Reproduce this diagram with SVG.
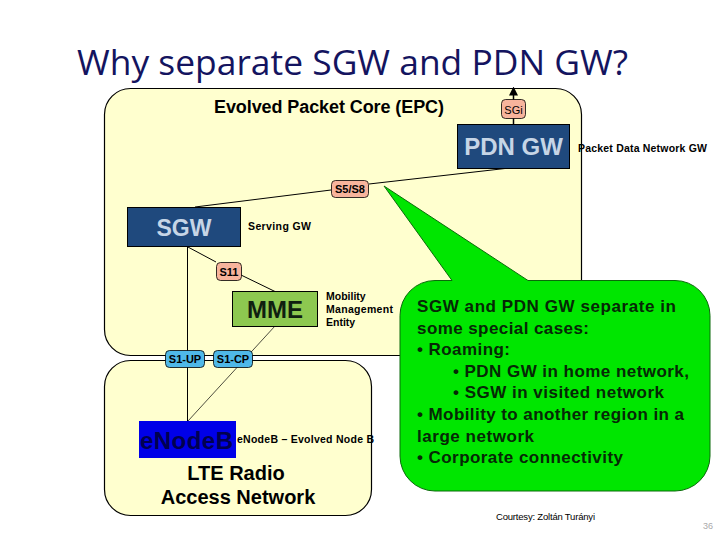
<svg xmlns="http://www.w3.org/2000/svg" width="720" height="540" viewBox="0 0 720 540">
<style>
text{font-family:"Liberation Sans",Arial,sans-serif;fill:#000}
.b{font-weight:bold}
.area{fill:#ffffcf;stroke:#000;stroke-width:1.2}
.gw{fill:#1f497d;stroke:#000}
.gwt{fill:#c6d5e6;font-weight:bold;text-anchor:middle}
.pink{fill:#f7b49c;stroke:#000;stroke-width:.8}
.blue{fill:#4fb8e8;stroke:#000;stroke-width:.8}
.lab{font-size:11px;font-weight:bold;text-anchor:middle}
.note{font-size:10.5px;font-weight:bold}
.ln{fill:none;stroke:#000;stroke-width:1}
.cl{font-size:17px;font-weight:bold;fill:#062806}
</style>
<defs><marker id="arr" markerWidth="6" markerHeight="6" refX="3" refY="3" orient="auto"><path d="M0,0L6,3L0,6Z" fill="#000"/></marker></defs>
<text id="title" x="77" y="75" textLength="551" lengthAdjust="spacingAndGlyphs" style="font-family:'Open Sans','Liberation Sans',sans-serif;font-size:34px;fill:#14145f">Why separate SGW and PDN GW?</text>
<g id="epc"><rect class="area" x="104.500" y="88.500" width="477" height="267" rx="26"/><text class="b" x="214" y="113" font-size="18" textLength="230">Evolved Packet Core (EPC)</text></g>
<g id="ran"><rect class="area" x="104.500" y="360.500" width="267" height="155" rx="26"/><text class="b" x="236" y="480" font-size="20" text-anchor="middle">LTE Radio</text><text class="b" x="238" y="504" font-size="20" text-anchor="middle">Access Network</text></g>
<g id="connectors">
<path class="ln" d="M513.500 124V91" style="stroke-width:1.500" marker-end="url(#arr)"/>
<path class="ln" d="M505 168.500L369 184"/>
<path class="ln" d="M331 190L195 207"/>
<path class="ln" d="M187 246.500L216 262"/>
<path class="ln" d="M241 275L275 291.500"/>
<path class="ln" d="M187.500 246.500V421"/>
<path class="ln" d="M275 326L188 421" style="stroke-width:.7"/>
</g>
<g id="sgi"><rect class="pink" x="501.500" y="99.500" width="24" height="19" rx="4"/><text class="lab" x="513.500" y="113.500" style="font-weight:normal" font-size="11">SGi</text></g>
<g id="pdngw"><rect class="gw" x="457.500" y="124.500" width="112" height="44"/><text class="gwt" x="513.500" y="155" font-size="24">PDN GW</text><text class="note" x="578" y="152" textLength="129">Packet Data Network GW</text></g>
<g id="s5s8"><rect class="pink" x="331.500" y="180.500" width="37" height="17" rx="4"/><text class="lab" x="350" y="193">S5/S8</text></g>
<g id="sgw"><rect class="gw" x="127.500" y="207.500" width="113" height="39"/><text class="gwt" x="184" y="236" font-size="23">SGW</text><text class="note" x="248" y="230" textLength="63">Serving GW</text></g>
<g id="s11"><rect class="pink" x="216.500" y="262.500" width="25" height="18" rx="4"/><text class="lab" x="229" y="276">S11</text></g>
<g id="mme"><rect x="232.500" y="291.500" width="85" height="35" fill="#8dc850" stroke="#000"/><text class="b" x="275" y="318" font-size="24" text-anchor="middle" style="fill:#102010">MME</text><text class="note" x="326" y="300">Mobility</text><text class="note" x="326" y="313" textLength="67">Management</text><text class="note" x="326" y="326">Entity</text></g>
<g id="s1up"><rect class="blue" x="165.500" y="350.500" width="39" height="17" rx="4"/><text class="lab" x="185" y="363">S1-UP</text></g>
<g id="s1cp"><rect class="blue" x="213.500" y="350.500" width="39" height="17" rx="4"/><text class="lab" x="233" y="363">S1-CP</text></g>
<g id="enodeb"><rect x="139" y="421" width="97" height="37" fill="#0000e8"/><text class="b" x="140" y="449" font-size="24" textLength="93" style="fill:#000050">eNodeB</text><text class="note" x="237" y="443" textLength="137">eNodeB – Evolved Node B</text></g>
<g id="callout">
<path d="M435 280.500H452L384 186L528 280.500H675A35 35 0 0 1 710 315.500V456A35 35 0 0 1 675 491H435A35 35 0 0 1 400 456V315.500A35 35 0 0 1 435 280.500Z" fill="#00e600" stroke="#0a6a0a"/>
<text class="cl" x="417" y="312" textLength="259">SGW and PDN GW separate in</text>
<text class="cl" x="417" y="333.500" textLength="172">some special cases:</text>
<text class="cl" x="417" y="355" textLength="93">• Roaming:</text>
<text class="cl" x="453" y="377" textLength="236">• PDN GW in home network,</text>
<text class="cl" x="453" y="398" textLength="211">• SGW in visited network</text>
<text class="cl" x="417" y="420" textLength="267">• Mobility to another region in a</text>
<text class="cl" x="417" y="442" textLength="117">large network</text>
<text class="cl" x="417" y="463" textLength="206">• Corporate connectivity</text>
</g>
<text id="courtesy" x="496" y="520" font-size="9.500" textLength="99">Courtesy: Zoltán Turányi</text>
<text id="page" x="703" y="529" font-size="9" style="fill:#aaa">36</text>
</svg>
